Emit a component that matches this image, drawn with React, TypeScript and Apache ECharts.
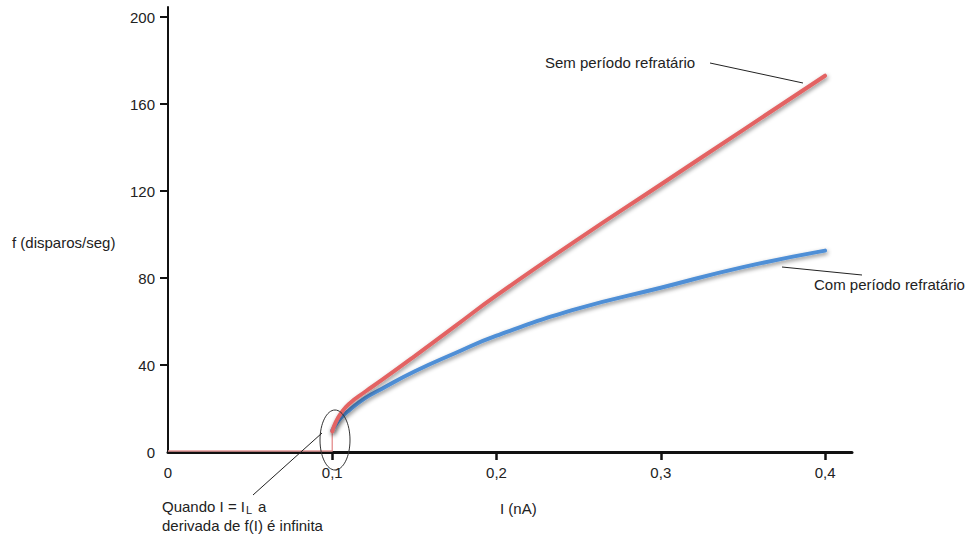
import React, { useEffect, useRef } from "react";
import * as echarts from "echarts";

const xTicks = [0, 0.1, 0.2, 0.3, 0.4];
const yTicks = [0, 40, 80, 120, 160, 200];

const currentI = [0.1, 0.102, 0.105, 0.11, 0.12, 0.13, 0.15, 0.175, 0.2, 0.25, 0.3, 0.35, 0.4];
const semRefratario = [9.5, 13.5, 17.5, 22, 27.7, 33, 44, 58, 72, 98, 123, 148, 173];
const comRefratario = [10, 12.5, 15.5, 19, 24.8, 29, 37, 45.5, 53.5, 66, 75.5, 85, 92.6];
const baselineI = [0, 0.1, 0.1];
const baselineF = [0.5, 0.5, 9];

const FONT = "'Liberation Sans', Arial, Helvetica, sans-serif";
const TXT = "#222";

export default function App() {
  const ref = useRef<HTMLDivElement>(null);
  useEffect(() => {
    if (!ref.current) return;
    const chart = echarts.init(ref.current, null, { renderer: "svg" });
    const pairs = (xs: number[], ys: number[]) => xs.map((x, i) => [x, ys[i]]);
    const text = (x: number, y: number, t: string, extra: any = {}) => ({
      type: "text",
      x,
      y,
      z: 100,
      style: { text: t, fontSize: 15, fontFamily: FONT, fill: TXT, verticalAlign: "middle", ...extra },
    });
    const line = (x1: number, y1: number, x2: number, y2: number) => ({
      type: "line",
      z: 100,
      shape: { x1, y1, x2, y2 },
      style: { stroke: "#222", lineWidth: 1 },
    });
    const curveStyle = (color: string) => ({
      color,
      width: 4,
      cap: "round",
      shadowColor: "rgba(0,0,0,0.45)",
      shadowBlur: 4,
      shadowOffsetX: 1,
      shadowOffsetY: 2,
    });
    chart.setOption({
      animation: false,
      backgroundColor: "#fff",
      grid: { left: 168, right: 127, top: 7, bottom: 87, containLabel: false },
      xAxis: {
        type: "value",
        min: 0,
        max: 0.4164,
        axisLine: { show: true, lineStyle: { color: "#111", width: 3 } },
        axisTick: { show: true, length: 8, lineStyle: { color: "#111", width: 2.5 }, customValues: xTicks.slice(1) },
        axisLabel: {
          customValues: xTicks,
          margin: 13,
          fontSize: 15,
          fontFamily: FONT,
          color: TXT,
          formatter: (v: number) => (v === 0 ? "0" : v.toFixed(1).replace(".", ",")),
        },
        splitLine: { show: false },
      },
      yAxis: {
        type: "value",
        min: 0,
        max: 204.6,
        axisLine: { show: true, lineStyle: { color: "#111", width: 2 } },
        axisTick: { show: true, length: 8, lineStyle: { color: "#111", width: 2 }, customValues: yTicks.slice(1) },
        axisLabel: { customValues: yTicks, margin: 13, fontSize: 15, fontFamily: FONT, color: TXT },
        splitLine: { show: false },
      },
      series: [
        {
          type: "line",
          data: pairs(baselineI, baselineF),
          symbol: "none",
          lineStyle: { color: "#e79a9a", width: 1.5 },
          z: 3,
        },
        {
          type: "line",
          name: "Com período refratário",
          data: pairs(currentI, comRefratario),
          symbol: "none",
          smooth: true,
          lineStyle: curveStyle("#4f8fd6"),
          z: 4,
        },
        {
          type: "line",
          name: "Sem período refratário",
          data: pairs(currentI, semRefratario),
          symbol: "none",
          smooth: true,
          lineStyle: curveStyle("#e36464"),
          z: 5,
        },
      ],
      graphic: [
        text(12, 242, "f (disparos/seg)"),
        text(500, 508, "I (nA)"),
        text(545, 62, "Sem período refratário"),
        line(710, 63, 803, 83),
        text(814, 284, "Com período refratário"),
        line(782, 267, 862, 275),
        {
          type: "ellipse",
          z: 100,
          shape: { cx: 335, cy: 440, rx: 15, ry: 30 },
          style: { fill: "none", stroke: "#333", lineWidth: 1 },
        },
        line(322, 433, 253, 495),
        text(162, 506, "Quando I = I"),
        text(246, 510, "L", { fontSize: 11 }),
        text(258, 506, "a"),
        text(162, 525, "derivada de f(I) é infinita"),
      ],
    });
    return () => chart.dispose();
  }, []);
  return <div ref={ref} style={{ position: "fixed", left: 0, top: 0, width: 979, height: 539 }} />;
}
